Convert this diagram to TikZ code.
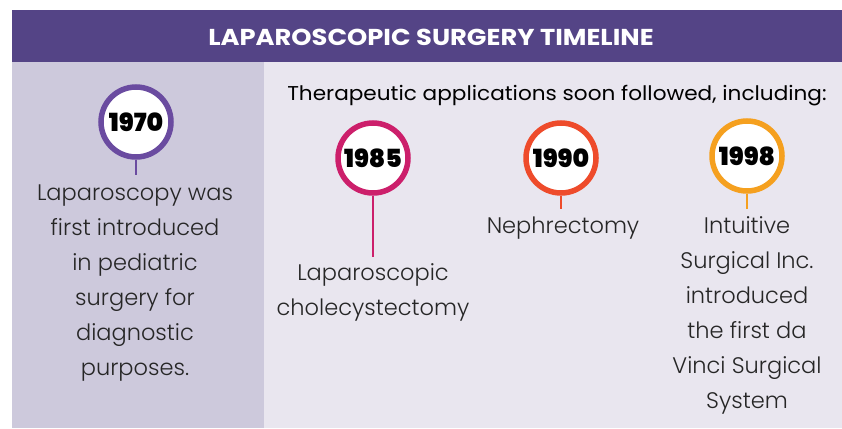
\documentclass[tikz,border=0pt]{standalone}
\usepackage{fontspec}
\setmainfont{Poppins}
\newfontfamily\lightfont{Poppins Light}
\newfontfamily\heavyfont{Poppins Black}
\definecolor{hdr}{HTML}{544486}
\definecolor{leftbg}{HTML}{CDC9DC}
\definecolor{rightbg}{HTML}{E9E6EF}
\definecolor{cpurple}{HTML}{6A4BA0}
\definecolor{cmagenta}{HTML}{CC1F6B}
\definecolor{corange}{HTML}{EE4B2B}
\definecolor{cyellow}{HTML}{F5A01F}
\begin{document}
\begin{tikzpicture}[x=1pt,y=-1pt,
  yearc/.style={circle,draw=#1,line width=5.5pt,fill=white,minimum size=70pt,inner sep=0pt,font=\heavyfont\fontsize{25}{26}\selectfont,text=black},
  stem/.style={draw=#1,line width=2.2pt},
  body/.style={font=\lightfont\fontsize{22.5}{35}\selectfont,align=center,text=black!85,anchor=north}]
\useasboundingbox (0,0) rectangle (842,428);
\fill[white] (0,0) rectangle (842,428);
\fill[hdr] (12,10) rectangle (842,62);
\fill[leftbg] (12,62) rectangle (264,428);
\fill[rightbg] (264,62) rectangle (842,428);
\node[text=white,font=\bfseries\addfontfeature{FakeStretch=1.12}\fontsize{23}{24}\selectfont] (title) at (431,37) {LAPAROSCOPIC SURGERY TIMELINE};
\node[font=\addfontfeature{FakeStretch=1.08}\fontsize{20}{22}\selectfont,text=black] (sub) at (557,96) {Therapeutic applications soon followed, including:};
% 1970
\node[yearc=cpurple] (y70) at (136,122) {1970};
\coordinate (e70) at (136,175);
\draw[stem=cpurple] (y70.south) -- (e70);
\node[body] (t70) at (135,181) {Laparoscopy was\\first introduced\\in pediatric\\surgery for\\diagnostic\\purposes.};
% 1985
\node[yearc=cmagenta] (y85) at (373,158) {1985};
\coordinate (e85) at (373,257);
\draw[stem=cmagenta] (y85.south) -- (e85);
\node[body] (t85) at (373,260) {Laparoscopic\\cholecystectomy};
% 1990
\node[yearc=corange] (y90) at (561,158) {1990};
\coordinate (e90) at (561,209);
\draw[stem=corange] (y90.south) -- (e90);
\node[body] (t90) at (563,213) {Nephrectomy};
% 1998
\node[yearc=cyellow] (y98) at (747,156) {1998};
\coordinate (e98) at (747,209);
\draw[stem=cyellow] (y98.south) -- (e98);
\node[body] (t98) at (747,213) {Intuitive\\Surgical Inc.\\introduced\\the first da\\Vinci Surgical\\System};
\end{tikzpicture}
\end{document}
